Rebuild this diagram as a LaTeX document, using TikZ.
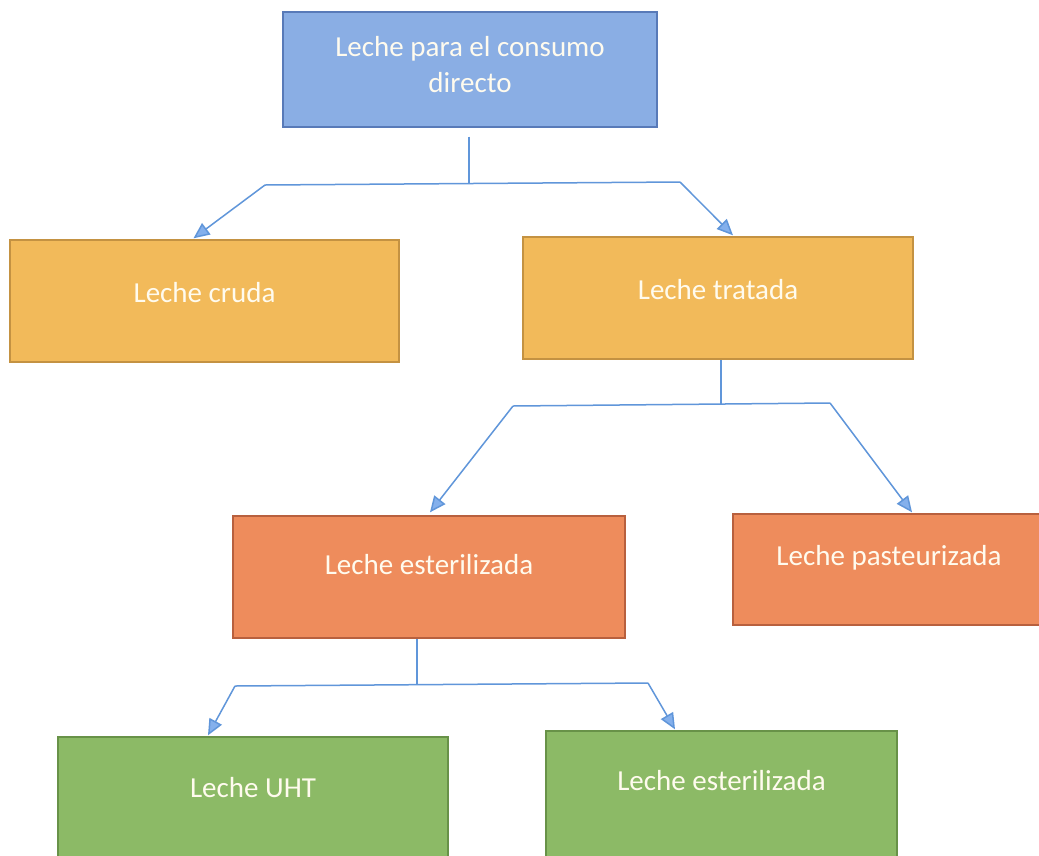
\documentclass[tikz,border=0pt]{standalone}
\usepackage{fontspec}
\setmainfont{Carlito}
\usetikzlibrary{arrows.meta}

\definecolor{blueFill}{RGB}{138,174,228}
\definecolor{blueLine}{RGB}{88,122,184}
\definecolor{yellowFill}{RGB}{242,186,90}
\definecolor{yellowLine}{RGB}{196,146,66}
\definecolor{orangeFill}{RGB}{238,140,92}
\definecolor{orangeLine}{RGB}{184,96,62}
\definecolor{greenFill}{RGB}{140,186,102}
\definecolor{greenLine}{RGB}{104,146,72}
\definecolor{linkLine}{RGB}{96,150,218}
\definecolor{tipFill}{RGB}{132,176,236}
\definecolor{boxText}{RGB}{255,251,238}

\tikzset{
  box/.style={draw=#1Line, fill=#1Fill, line width=1.4pt, rectangle, inner sep=0pt},
  txt/.style={text=boxText, font=\fontsize{29}{36}\selectfont, align=center, inner sep=0pt},
  link/.style={draw=linkLine, line width=1.5pt},
  arrowlink/.style={link, -{Triangle[length=16pt,width=14pt,fill=tipFill]}}
}

\begin{document}
\begin{tikzpicture}[x=1pt,y=-1pt]
  \useasboundingbox (0,0) rectangle (1039,855);
  \clip (0,0) rectangle (1039,855);
  \fill[white] (0,0) rectangle (1039,855);

  % boxes
  \node[box=blue,   minimum width=374pt, minimum height=115pt] (top)    at (470,69.5) {};
  \node[box=yellow, minimum width=389pt, minimum height=122pt] (cruda)  at (204.5,301) {};
  \node[box=yellow, minimum width=390pt, minimum height=122pt] (trat)   at (718,298) {};
  \node[box=orange, minimum width=392pt, minimum height=122pt] (ester)  at (429,577) {};
  \node[box=orange, minimum width=312pt, minimum height=111pt] (paste)  at (889,569.5) {};
  \node[box=green,  minimum width=390pt, minimum height=123pt] (uht)    at (253,798.5) {};
  \node[box=green,  minimum width=351pt, minimum height=129pt] (esterB) at (721.5,795.5) {};

  % labels
  \node[txt] (top-t)    at ([yshift=4.5pt]top.center)    {Leche para el consumo\\directo};
  \node[txt] (cruda-t)  at ([yshift=8pt]cruda.center)    {Leche cruda};
  \node[txt] (trat-t)   at ([yshift=8pt]trat.center)     {Leche tratada};
  \node[txt] (ester-t)  at ([yshift=12pt]ester.center)   {Leche esterilizada};
  \node[txt] (paste-t)  at ([yshift=12pt]paste.center)   {Leche pasteurizada};
  \node[txt] (uht-t)    at ([yshift=11pt]uht.center)     {Leche UHT};
  \node[txt] (esterB-t) at ([yshift=15pt]esterB.center)  {Leche esterilizada};

  % first branching
  \coordinate (j1)  at (469,183);
  \coordinate (j1l) at (265,185);
  \coordinate (j1r) at (680,182);
  \draw[link] ([xshift=-1pt,yshift=-9pt]top.south) -- (j1);
  \draw[link] (j1l) -- (j1r);
  \draw[arrowlink] (j1l) -- ([xshift=-11pt,yshift=1pt]cruda.north);
  \draw[arrowlink] (j1r) -- ([xshift=15pt,yshift=1pt]trat.north);

  % second branching
  \coordinate (j2)  at (721,405);
  \coordinate (j2l) at (513,406);
  \coordinate (j2r) at (830,403);
  \draw[link] ([xshift=3pt]trat.south) -- (j2);
  \draw[link] (j2l) -- (j2r);
  \draw[arrowlink] (j2l) -- ([xshift=1pt,yshift=3pt]ester.north);
  \draw[arrowlink] (j2r) -- ([xshift=23pt,yshift=1pt]paste.north);

  % third branching
  \coordinate (j3)  at (417,685);
  \coordinate (j3l) at (235,686);
  \coordinate (j3r) at (648,683);
  \draw[link] ([xshift=-12pt]ester.south) -- (j3);
  \draw[link] (j3l) -- (j3r);
  \draw[arrowlink] (j3l) -- ([xshift=-45pt,yshift=1pt]uht.north);
  \draw[arrowlink] (j3r) -- ([xshift=-46.5pt,yshift=1pt]esterB.north);
\end{tikzpicture}
\end{document}
